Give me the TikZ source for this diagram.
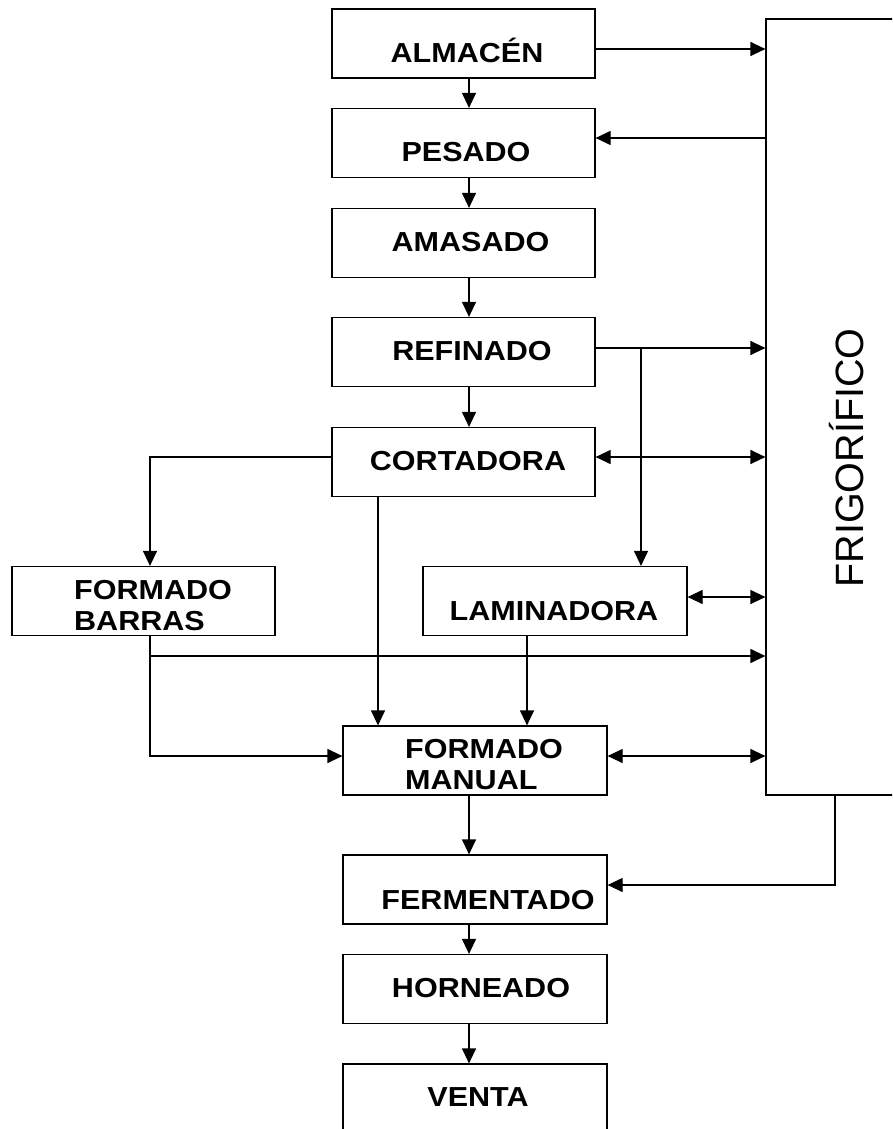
\documentclass[tikz,border=0pt]{standalone}
\usepackage{fontspec}
\setmainfont{Liberation Sans}
\newfontfamily\lblfont{Liberation Sans}[FakeStretch=1.11]
\usetikzlibrary{arrows.meta}
\tikzset{
  box/.style={draw, line width=1.2pt, rectangle, inner sep=0pt, minimum width=263pt, minimum height=69pt},
  lbl/.style={inner sep=0pt, font=\lblfont\bfseries\fontsize{27.5}{31}\selectfont},
  conn/.style={line width=1.2pt},
  arr/.style={conn, -{Triangle[length=15pt,width=14pt]}},
  darr/.style={conn, {Triangle[length=15pt,width=14pt]}-{Triangle[length=15pt,width=14pt]}},
}
\begin{document}
\begin{tikzpicture}[x=1pt,y=-1pt]
\useasboundingbox (0,0) rectangle (892,1129);
\clip (0,0) rectangle (892,1129);
% boxes
\node[box] (alm) at (463.5,43.5) {};
\node[box] (pes) at (463.5,143) {};
\node[box] (ama) at (463.5,243) {};
\node[box] (ref) at (463.5,352) {};
\node[box] (cor) at (463.5,462) {};
\node[box] (fb) at (143.5,601) {};
\node[box, minimum width=264pt] (lam) at (555,601) {};
\node[box, minimum width=264pt] (fm) at (475,760.5) {};
\node[box, minimum width=264pt] (ferm) at (475,889.5) {};
\node[box, minimum width=264pt] (horn) at (475,989) {};
\node[box, minimum width=264pt, minimum height=100pt] (venta) at (475,1114) {};
\node[box, minimum width=140pt, minimum height=776pt] (frig) at (836,407) {};
% labels
\node[lbl, anchor=base] (almt) at (467,62.7) {ALMACÉN};
\node[lbl, anchor=base] (pest) at (466,161.7) {PESADO};
\node[lbl, anchor=base] (amat) at (470.5,251) {AMASADO};
\node[lbl, anchor=base] (reft) at (472,360.7) {REFINADO};
\node[lbl, anchor=base] (cort) at (468,470.7) {CORTADORA};
\node[lbl, anchor=north west, align=left] (fbt) at (74,580.5) {FORMADO\\BARRAS};
\node[lbl, anchor=base] (lamt) at (554,620) {LAMINADORA};
\node[lbl, anchor=north west, align=left] (fmt) at (405,738.8) {FORMADO\\MANUAL};
\node[lbl, anchor=base] (fermt) at (488,909) {FERMENTADO};
\node[lbl, anchor=base] (hornt) at (481,997.3) {HORNEADO};
\node[lbl, anchor=base] (ventat) at (478,1106) {VENTA};
\node[inner sep=0pt, rotate=90, anchor=base, font=\fontsize{39.5}{44}\selectfont] (frigt) at (863,458) {FRIGORÍFICO};
% main chain
\draw[arr] (alm.south -| 469,0) -- (pes.north -| 469,0);
\draw[arr] (pes.south -| 469,0) -- (ama.north -| 469,0);
\draw[arr] (ama.south -| 469,0) -- (ref.north -| 469,0);
\draw[arr] (ref.south -| 469,0) -- (cor.north -| 469,0);
\draw[arr] (fm.south -| 469,0) -- (ferm.north -| 469,0);
\draw[arr] (ferm.south -| 469,0) -- (horn.north -| 469,0);
\draw[arr] (horn.south -| 469,0) -- (venta.north -| 469,0);
% frigorifico links
\draw[arr] (alm.east |- 0,49) -- (frig.west |- 0,49);
\draw[arr] (frig.west |- 0,138) -- (pes.east |- 0,138);
\draw[arr] (ref.east |- 0,348) -- (frig.west |- 0,348);
\coordinate (br) at (641,348);
\draw[arr] (br) -- (lam.north -| br);
\draw[darr] (cor.east |- 0,457) -- (frig.west |- 0,457);
\draw[darr] (lam.east |- 0,597) -- (frig.west |- 0,597);
\draw[darr] (fm.east |- 0,756) -- (frig.west |- 0,756);
\draw[arr] (frig.south -| 835,0) |- (ferm.east |- 0,885);
% left branch
\draw[arr] (cor.west |- 0,457) -| (fb.north -| 150,0);
\draw[arr] (cor.south -| 378,0) -- (fm.north -| 378,0);
\draw[arr] (fb.south -| 150,0) |- (fm.west |- 0,756);
\coordinate (j1) at (150,656);
\draw[arr] (j1) -- (frig.west |- j1);
\draw[arr] (lam.south -| 527,0) -- (fm.north -| 527,0);
\end{tikzpicture}
\end{document}
